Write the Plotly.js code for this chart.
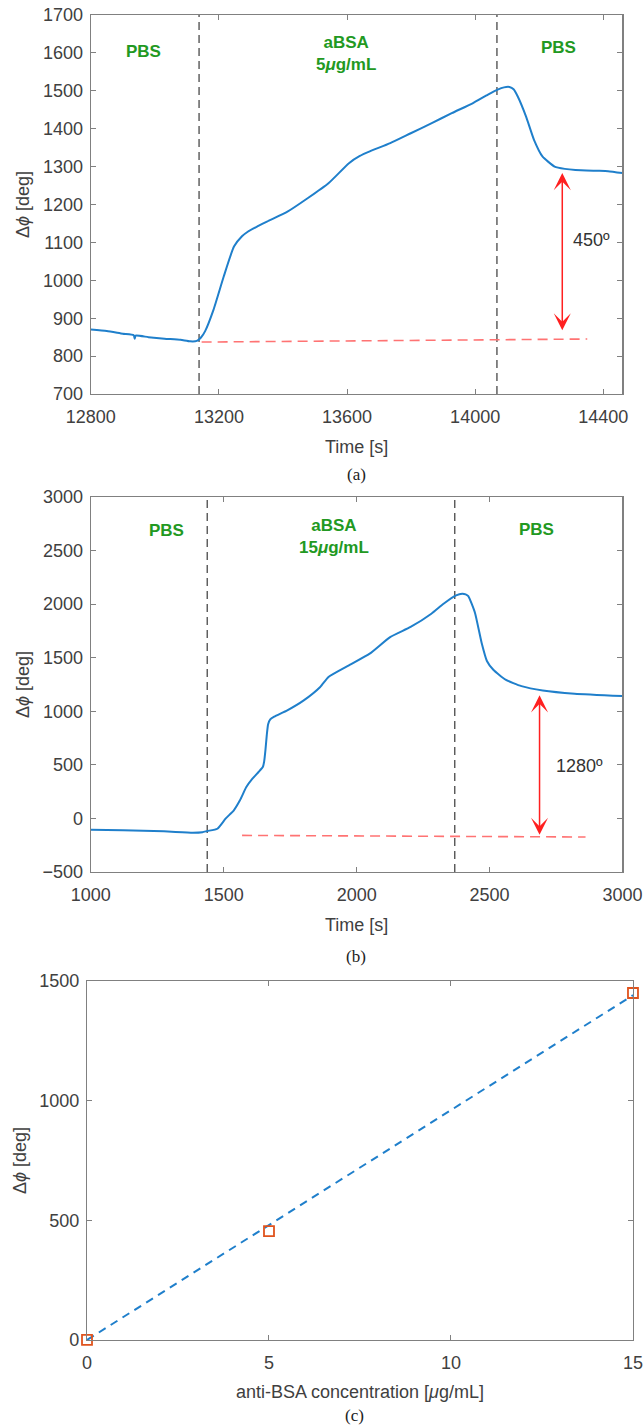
<!DOCTYPE html>
<html>
<head>
<meta charset="utf-8">
<script src="https://cdn.plot.ly/plotly-3.0.1.min.js"></script>
<style>html,body{margin:0;padding:0;background:#fff;}#chart{width:644px;height:1427px;}</style>
</head>
<body>
<div id="chart"></div>
<script>
// ---- Panel (a): aBSA 5 ug/mL ----
const timeA = [12800, 12850, 12900, 12934, 12937, 12940, 12980, 13030, 13080, 13110, 13131, 13144, 13157, 13183, 13215, 13247, 13272, 13290, 13320, 13350, 13414, 13478, 13542, 13606, 13640, 13671, 13735, 13799, 13863, 13927, 13992, 14040, 14070, 14090, 14107, 14120, 14133, 14159, 14184, 14210, 14248, 14280, 14313, 14377, 14415, 14460];
const phiA  = [870, 866, 859, 855, 846, 854, 850, 846, 843, 839, 840, 849, 866, 922, 1010, 1089, 1116, 1128, 1142, 1155, 1181, 1217, 1256, 1309, 1328, 1340, 1362, 1388, 1414, 1441, 1467, 1490, 1503, 1509, 1510, 1504, 1485, 1432, 1370, 1327, 1300, 1294, 1291, 1289, 1288, 1283];
const switchA = [13138, 14068];
const baseA_x = [13146, 14350];
const baseA_y = [837, 845];
const arrowA = {x: 14272, top: 1283, bottom: 864};
const ticksA = [12800, 13200, 13600, 14000, 14400];

// ---- Panel (b): aBSA 15 ug/mL ----
const timeB = [1000, 1121, 1275, 1384, 1420, 1438, 1476, 1507, 1538, 1561, 1585, 1608, 1631, 1647, 1652, 1657, 1662, 1667, 1675, 1690, 1739, 1801, 1863, 1894, 1971, 2049, 2126, 2203, 2281, 2327, 2374, 2397, 2410, 2420, 2445, 2470, 2490, 2515, 2560, 2620, 2700, 2820, 3000];
const phiB  = [-105, -111, -120, -133, -128, -117, -96, -2, 76, 169, 293, 371, 434, 480, 530, 640, 780, 880, 925, 950, 1009, 1102, 1227, 1320, 1429, 1538, 1693, 1787, 1911, 2004, 2082, 2098, 2092, 2075, 1920, 1640, 1470, 1385, 1295, 1235, 1195, 1165, 1143];
const switchB = [1438, 2369];
const baseB_x = [1569, 2861];
const baseB_y = [-158, -173];
const arrowB = {x: 2688, top: 1149, bottom: -167};
const ticksB = [1000, 1500, 2000, 2500, 3000];

// ---- Panel (c): calibration ----
const concC = [0, 5, 15];
const phiC  = [0, 455, 1450];
const fitX  = [0, 15];
const fitY  = [0, 1441];
const ticksC = [0, 5, 10, 15];

// labels
const phaseLabelsA = [{x: 12964, y: 1603, t: 'PBS'}, {x: 13597, y: 1599, t: 'aBSA<br>5<i>μ</i>g/mL'}, {x: 14261, y: 1614, t: 'PBS'}];
const phaseLabelsB = [{x: 1283, y: 2689, t: 'PBS'}, {x: 1913, y: 2635, t: 'aBSA<br>15<i>μ</i>g/mL'}, {x: 2675, y: 2695, t: 'PBS'}];
const deltaA = {x: 14364, y: 1107, t: '450º'};
const deltaB = {x: 2838, y: 489, t: '1280º'};

const BLUE = '#1f7fcb', GREEN = '#229922', AX = '#808080', TXT = '#404040';
const traces = [];
function vlines(xs, yr, xa, ya) {
  xs.forEach(v => traces.push({x: [v, v], y: yr, xaxis: xa, yaxis: ya, mode: 'lines', hoverinfo: 'skip',
    line: {color: '#555555', width: 1.4, dash: '8px,5px'}}));
}
// panel a
vlines(switchA, [700, 1700], 'x', 'y');
traces.push({x: baseA_x, y: baseA_y, xaxis: 'x', yaxis: 'y', mode: 'lines', line: {color: '#ff7373', width: 1.6, dash: '10px,6px'}});
traces.push({x: timeA, y: phiA, xaxis: 'x', yaxis: 'y', mode: 'lines', line: {color: BLUE, width: 2, shape: 'spline', smoothing: 0.5}});
// panel b
vlines(switchB, [-500, 3000], 'x2', 'y2');
traces.push({x: baseB_x, y: baseB_y, xaxis: 'x2', yaxis: 'y2', mode: 'lines', line: {color: '#ff7373', width: 1.6, dash: '10px,6px'}});
traces.push({x: timeB, y: phiB, xaxis: 'x2', yaxis: 'y2', mode: 'lines', line: {color: BLUE, width: 2, shape: 'spline', smoothing: 0.5}});
// panel c
traces.push({x: fitX, y: fitY, xaxis: 'x3', yaxis: 'y3', mode: 'lines', line: {color: BLUE, width: 2, dash: '8px,6px'}});
traces.push({x: concC, y: phiC, xaxis: 'x3', yaxis: 'y3', mode: 'markers', cliponaxis: false,
  marker: {symbol: 'square-open', size: 10, color: '#e0531d', line: {width: 1.8, color: '#e0531d'}}});

function axis(extra) {
  return Object.assign({showline: true, linecolor: AX, linewidth: 1.2, mirror: 'ticks', ticks: 'inside', ticklen: 5,
    tickcolor: AX, tickwidth: 1, showgrid: false, zeroline: false, fixedrange: true, tickformat: 'd',
    ticklabeloverflow: 'allow',
    tickfont: {family: 'Liberation Sans, Arial, sans-serif', size: 18, color: TXT}}, extra);
}
const xtitle = (t, s) => ({text: t, font: {size: 18, color: TXT}, standoff: s});
const ytitle = (s) => ({text: 'Δ<i>ϕ</i> [deg]', font: {size: 18, color: TXT}, standoff: s});

const annotations = [];
function phaseAnn(list, xr, yr) {
  list.forEach(p => annotations.push({x: p.x, y: p.y, xref: xr, yref: yr, text: '<b>' + p.t + '</b>', showarrow: false,
    font: {size: 17, color: GREEN, family: 'Liberation Sans, Arial, sans-serif'}}));
}
phaseAnn(phaseLabelsA, 'x', 'y');
phaseAnn(phaseLabelsB, 'x2', 'y2');
function arrowAnn(a, xr, yr) {
  annotations.push({x: a.x, y: a.top, ax: a.x, ay: a.bottom, xref: xr, yref: yr, axref: xr, ayref: yr, text: '',
    showarrow: true, arrowside: 'end+start', arrowhead: 3, startarrowhead: 3, arrowsize: 1.9, startarrowsize: 1.9,
    arrowwidth: 1.5, arrowcolor: '#ff2020'});
}
arrowAnn(arrowA, 'x', 'y');
arrowAnn(arrowB, 'x2', 'y2');
[[deltaA, 'x', 'y'], [deltaB, 'x2', 'y2']].forEach(([d, xr, yr]) => annotations.push({x: d.x, y: d.y, xref: xr, yref: yr,
  text: d.t, showarrow: false, font: {size: 18, color: '#333333'}}));
[['(a)', 356, 474], ['(b)', 356, 956], ['(c)', 354, 1415]].forEach(([t, px, py]) => annotations.push({
  x: px / 644, y: 1 - py / 1427, xref: 'paper', yref: 'paper', xanchor: 'center', yanchor: 'middle', text: t, showarrow: false,
  font: {family: 'Liberation Serif, Times New Roman, serif', size: 17, color: '#222222'}}));

const layout = {
  width: 644, height: 1427, margin: {l: 0, r: 0, t: 0, b: 0}, paper_bgcolor: '#ffffff', plot_bgcolor: '#ffffff',
  showlegend: false, font: {family: 'Liberation Sans, Arial, sans-serif', size: 18, color: TXT},
  xaxis: axis({domain: [0.1410, 0.9666], range: [12800, 14460], tickvals: ticksA, anchor: 'y', ticklabelstandoff: 6,
    title: xtitle('Time [s]', 14)}),
  yaxis: axis({domain: [0.7239, 0.9895], range: [700, 1700], dtick: 100, anchor: 'x', ticklabelstandoff: 3, title: ytitle(8)}),
  xaxis2: axis({domain: [0.1410, 0.9666], range: [1000, 3000.01], tickvals: ticksB, anchor: 'y2', ticklabelstandoff: 6,
    title: xtitle('Time [s]', 14)}),
  yaxis2: axis({domain: [0.3889, 0.6517], range: [-500, 3000], dtick: 500, anchor: 'x2', ticklabelstandoff: 3, title: ytitle(8)}),
  xaxis3: axis({domain: [0.1351, 0.9829], range: [0, 15.0001], tickvals: ticksC, anchor: 'y3', ticklabelstandoff: 6,
    title: xtitle('anti-BSA concentration [<i>μ</i>g/mL]', 13)}),
  yaxis3: axis({domain: [0.0610, 0.3125], range: [0, 1500], dtick: 500, anchor: 'x3', ticklabelstandoff: 3, title: ytitle(7)}),
  annotations: annotations
};
Plotly.newPlot('chart', traces, layout, {displayModeBar: false, staticPlot: true});
</script>
</body>
</html>
